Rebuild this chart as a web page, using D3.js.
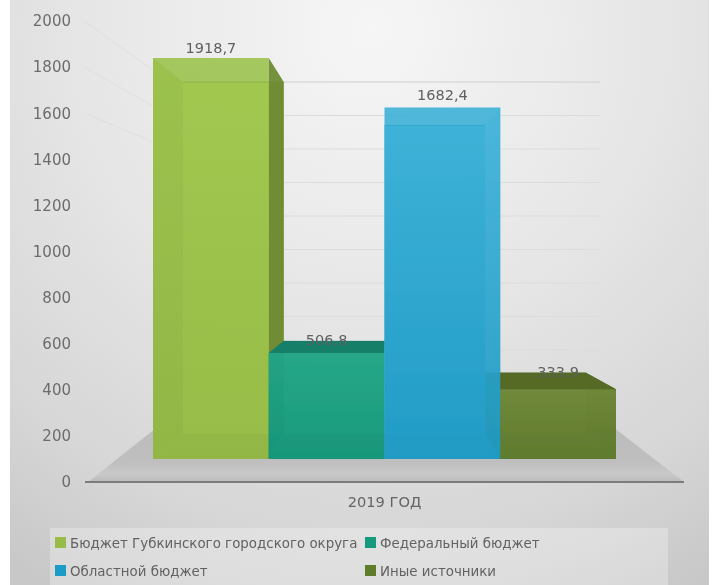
<!DOCTYPE html>
<html lang="ru">
<head>
<meta charset="utf-8">
<script src="https://cdn.jsdelivr.net/npm/d3@7/dist/d3.min.js"></script>
<style>
html,body{margin:0;padding:0;background:#fff;}
svg{display:block;}
text{font-family:"DejaVu Sans",sans-serif;}
</style>
</head>
<body>
<div id="chart"></div>
<script>
const seriesNames = ["Бюджет Губкинского городского округа","Федеральный бюджет","Областной бюджет","Иные источники"];
const seriesValues = [1918.7,506.8,1682.4,333.9];
const valueLabels = ["1918,7","506,8","1682,4","333,9"];
const yTicks = [0,200,400,600,800,1000,1200,1400,1600,1800,2000];
const wallTicks = [1600,1800,2000];
const categories = ["2019 ГОД"];
const frontTop = ["#a2c950","#25a888","#41b5da","#71893a"];
const frontBottom = ["#97bc46","#17997b","#1f9bc6","#5f7b2b"];
const sideColors = ["#6d8a35","#0f7f66","#1390b5","#56702a"];
const topColors = ["#7f9f3c","#177f68","#2c9cc4","#566a28"];
const sideOpacity = [0.95,0.95,0.45,0.95];
const drawOrder = [0,3,1,2];

const W = 715, H = 585;
const svg = d3.select("#chart").append("svg").attr("width",W).attr("height",H);
const defs = svg.append("defs");

const bg = defs.append("radialGradient").attr("id","bg").attr("gradientUnits","userSpaceOnUse")
  .attr("cx",370).attr("cy",30).attr("r",640);
[[0,"#f6f6f6"],[0.45,"#e6e6e6"],[0.8,"#d6d6d6"],[1,"#c8c8c8"]].forEach(s=>bg.append("stop").attr("offset",s[0]).attr("stop-color",s[1]));
const floorG = defs.append("linearGradient").attr("id","floor").attr("x1",0).attr("x2",0).attr("y1",0).attr("y2",1);
[[0,"#bbbbbb"],[0.7,"#bfbfbf"],[0.88,"#c9c9c9"],[1,"#bcbcbc"]].forEach(s=>floorG.append("stop").attr("offset",s[0]).attr("stop-color",s[1]));
seriesNames.forEach((n,i)=>{
  const g = defs.append("linearGradient").attr("id","f"+i).attr("x1",0).attr("x2",0).attr("y1",0).attr("y2",1);
  g.append("stop").attr("offset",0).attr("stop-color",frontTop[i]);
  g.append("stop").attr("offset",1).attr("stop-color",frontBottom[i]);
});
defs.append("filter").attr("id","soft").attr("x","-5%").attr("y","-5%").attr("width","110%").attr("height","110%")
  .append("feGaussianBlur").attr("stdDeviation",0.7);

const root = svg.append("g").attr("filter","url(#soft)");
root.append("rect").attr("x",10).attr("y",-5).attr("width",699).attr("height",H+10).attr("fill","url(#bg)");

// scales
const axisY = d3.scaleLinear().domain([0,2000]).range([482,21]);
const wallY = d3.scaleLinear().domain([0,2000]).range([417,82]);
const frontY = d3.scaleLinear().domain([0,2000]).range([459,41]);
const backY = d3.scaleLinear().domain([0,2000]).range([434,67.2]);
const frontX = d3.scaleBand().domain(seriesNames).range([153,616]);
const backX = d3.scaleLinear().domain([153,616]).range([183,586]);
const catX = d3.scaleBand().domain(categories).range([85,684]);

// floor
const floorPts = [[88,482],[170,417],[600,417],[684,482]];
root.append("polygon").attr("points",floorPts.join(" ")).attr("fill","url(#floor)");

// walls grid
const grid = root.append("g").attr("fill","none").attr("stroke-width",1);
yTicks.filter(t=>t>0).forEach(t=>{
  grid.append("line").attr("x1",170).attr("x2",600).attr("y1",wallY(t)).attr("y2",wallY(t))
    .attr("stroke",t===2000?"#cfcfcf":"#dcdcdc");
});
wallTicks.forEach(t=>{
  grid.append("line").attr("x1",84).attr("x2",170).attr("y1",axisY(t)).attr("y2",wallY(t)).attr("stroke","#e0e0e0");
});

// axes
const yAxis = root.append("g").attr("transform","translate(71,0)")
  .call(d3.axisLeft(axisY).tickValues(yTicks).tickSize(0).tickPadding(0).tickFormat(d3.format("d")));
yAxis.select(".domain").remove();
yAxis.selectAll("text").attr("font-size",15).attr("fill","#6c6c6c").style("font-family",'"DejaVu Sans",sans-serif');

root.append("line").attr("x1",85).attr("x2",684).attr("y1",482).attr("y2",482).attr("stroke","#7b7b7b").attr("stroke-width",2);

const xAxis = root.append("g").attr("transform","translate(0,497)")
  .call(d3.axisBottom(catX).tickSize(0).tickPadding(0));
xAxis.select(".domain").remove();
xAxis.selectAll("text").attr("font-size",14.6).attr("fill","#666").style("font-family",'"DejaVu Sans",sans-serif');

// bars
const bars = root.append("g");
drawOrder.forEach(i=>{
  const name = seriesNames[i], v = seriesValues[i];
  const x0 = frontX(name), x1 = x0+frontX.bandwidth();
  const bx0 = backX(x0), bx1 = backX(x1);
  const ft = frontY(v), fb = frontY(0), bt = backY(v), bb = backY(0);
  const g = bars.append("g");
  const poly = (pts,fill,op)=>g.append("polygon").attr("points",pts.join(" ")).attr("fill",fill).attr("fill-opacity",op);
  poly([[bx0,bt],[bx1,bt],[bx1,bb],[bx0,bb]],frontBottom[i],0.9);
  poly([[x0,fb],[x1,fb],[bx1,bb],[bx0,bb]],sideColors[i],0.9);
  poly([[x0,ft],[bx0,bt],[bx0,bb],[x0,fb]],sideColors[i],sideOpacity[i]);
  poly([[x1,ft],[bx1,bt],[bx1,bb],[x1,fb]],sideColors[i],sideOpacity[i]);
  poly([[x0,ft],[x1,ft],[x1,fb],[x0,fb]],`url(#f${i})`,0.88);
  if (bt < ft) poly([[x0,ft],[x1,ft],[bx1,bt],[bx0,bt]],topColors[i],1);
  else poly([[x0,ft],[x1,ft],[bx1,bt],[bx0,bt]],topColors[i],0.12);
  g.append("line").attr("x1",bx0).attr("x2",bx1).attr("y1",bt).attr("y2",bt).attr("stroke",sideColors[i]).attr("stroke-opacity",0.3);
});

// value labels
const labelDy = [-5,4,-7,4];
root.append("g").selectAll("text").data(seriesNames).join("text")
  .attr("x",(d,i)=>frontX(d)+frontX.bandwidth()/2)
  .attr("y",(d,i)=>Math.min(frontY(seriesValues[i]),backY(seriesValues[i]))+labelDy[i])
  .attr("text-anchor","middle").attr("font-size",14.5).attr("fill","#5f5f5f")
  .text((d,i)=>valueLabels[i]);

// legend
root.append("rect").attr("x",50).attr("y",528).attr("width",618).attr("height",60).attr("fill","#ffffff").attr("fill-opacity",0.28);
const legX = d3.scaleOrdinal().domain([0,1]).range([55,365]);
const legY = d3.scaleOrdinal().domain([0,1]).range([537,565]);
const leg = root.append("g").selectAll("g").data(seriesNames).join("g")
  .attr("transform",(d,i)=>`translate(${legX(i%2)},${legY(Math.floor(i/2))})`);
leg.append("rect").attr("width",11).attr("height",11).attr("fill",(d,i)=>frontBottom[i]);
leg.append("text").attr("x",15).attr("y",10.5).attr("font-size",13.4).attr("fill","#626262").text(d=>d);
</script>
</body>
</html>
